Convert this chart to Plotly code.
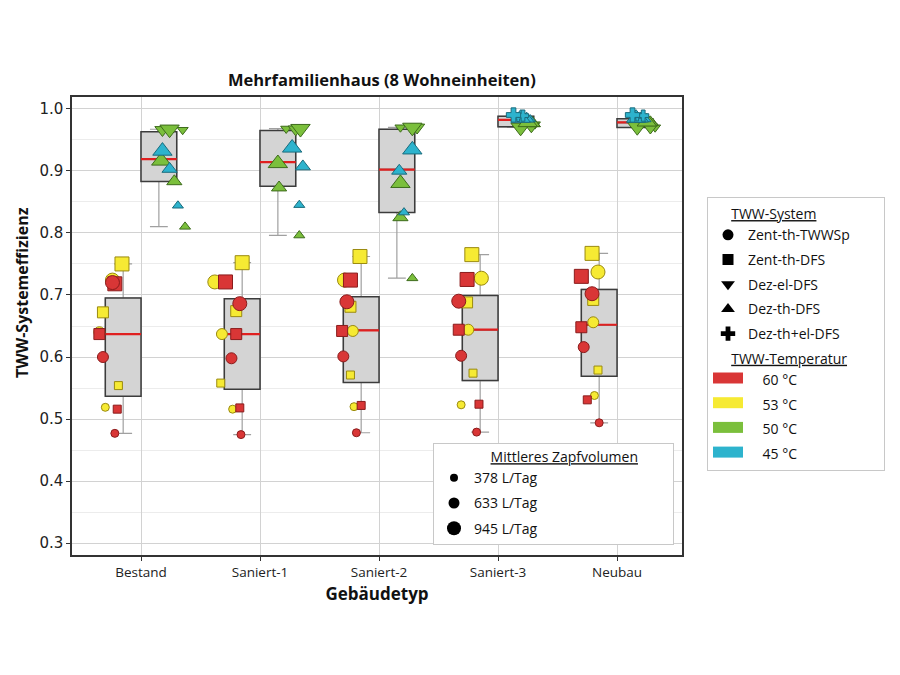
import numpy as np
import plotly.graph_objects as go

# ---------------- data ----------------
categories = ["Bestand", "Saniert-1", "Saniert-2", "Saniert-3", "Neubau"]
systems = ["Zent-th-TWWSp", "Zent-th-DFS", "Dez-el-DFS", "Dez-th-DFS", "Dez-th+el-DFS"]
temperatures = ["60 °C", "53 °C", "50 °C", "45 °C"]
volumes = ["378 L/Tag", "633 L/Tag", "945 L/Tag"]

# efficiency per category, each as [378, 633, 945 L/Tag]
zent_tww_60 = [[0.477, 0.600, 0.720], [0.475, 0.598, 0.686], [0.478, 0.601, 0.689],
               [0.479, 0.602, 0.690], [0.494, 0.616, 0.702]]
zent_tww_53 = [[0.519, 0.640, 0.724], [0.516, 0.637, 0.721], [0.520, 0.642, 0.724],
               [0.523, 0.644, 0.727], [0.538, 0.656, 0.737]]
zent_dfs_60 = [[0.516, 0.637, 0.718], [0.518, 0.637, 0.721], [0.522, 0.642, 0.724],
               [0.524, 0.644, 0.725], [0.531, 0.648, 0.730]]
zent_dfs_53 = [[0.554, 0.672, 0.750], [0.558, 0.674, 0.752], [0.571, 0.681, 0.762],
               [0.574, 0.688, 0.765], [0.579, 0.692, 0.767]]
dez_el_50 = [[0.966, 0.966, 0.967], [0.968, 0.967, 0.968], [0.970, 0.970, 0.970],
             [0.975, 0.972, 0.970], [0.970, 0.970, 0.971]]
dez_th_50 = [[0.810, 0.883, 0.916], [0.796, 0.873, 0.912], [0.727, 0.825, 0.880],
             [0.975, 0.977, 0.978], [0.977, 0.978, 0.979]]
dez_th_45 = [[0.844, 0.903, 0.932], [0.845, 0.907, 0.937], [0.833, 0.900, 0.934],
             [0.983, 0.984, 0.985], [0.983, 0.984, 0.985]]
dez_thel_45 = [[None, None, None], [None, None, None], [None, None, None],
               [0.986, 0.989, 0.990], [0.987, 0.989, 0.990]]

# horizontal jitter of each point (category units, from category centre)
zent_tww_60_dx = [[-0.22, -0.32, -0.24], [-0.16, -0.24, -0.17], [-0.19, -0.30, -0.27],
                  [-0.18, -0.31, -0.33], [-0.15, -0.28, -0.21]]
zent_tww_53_dx = [[-0.30, -0.35, -0.24], [-0.23, -0.32, -0.38], [-0.21, -0.22, -0.29],
                  [-0.31, -0.25, -0.14], [-0.19, -0.20, -0.16]]
zent_dfs_60_dx = [[-0.20, -0.35, -0.22], [-0.17, -0.20, -0.29], [-0.15, -0.31, -0.24],
                  [-0.16, -0.33, -0.26], [-0.25, -0.30, -0.30]]
zent_dfs_53_dx = [[-0.19, -0.32, -0.16], [-0.33, -0.20, -0.15], [-0.24, -0.24, -0.16],
                  [-0.21, -0.26, -0.22], [-0.16, -0.20, -0.21]]
dez_el_50_dx = [[0.35, 0.18, 0.24], [0.22, 0.30, 0.34], [0.18, 0.32, 0.28],
                [0.31, 0.28, 0.19], [0.32, 0.28, 0.17]]
dez_th_50_dx = [[0.37, 0.28, 0.17], [0.33, 0.16, 0.15], [0.28, 0.18, 0.18],
                [0.31, 0.29, 0.25], [0.30, 0.28, 0.25]]
dez_th_45_dx = [[0.31, 0.24, 0.18], [0.33, 0.36, 0.27], [0.21, 0.17, 0.28],
                [0.27, 0.24, 0.19], [0.24, 0.20, 0.16]]
dez_thel_45_dx = [[0, 0, 0], [0, 0, 0], [0, 0, 0],
                  [0.17, 0.21, 0.13], [0.17, 0.22, 0.13]]

# box statistics (left box: central systems, right box: decentral systems)
zent_q1 = [0.537, 0.548, 0.559, 0.562, 0.569]
zent_median = [0.637, 0.637, 0.643, 0.644, 0.652]
zent_q3 = [0.695, 0.694, 0.697, 0.699, 0.709]
zent_low = [0.477, 0.475, 0.478, 0.479, 0.494]
zent_high = [0.750, 0.752, 0.762, 0.765, 0.767]
dez_q1 = [0.883, 0.875, 0.833, 0.971, 0.970]
dez_median = [0.919, 0.914, 0.902, 0.982, 0.978]
dez_q3 = [0.963, 0.965, 0.967, 0.988, 0.984]
dez_low = [0.810, 0.796, 0.727, 0.970, 0.970]
dez_high = [0.967, 0.968, 0.970, 0.990, 0.990]

# series: (values, jitter, system index, temperature index)
series = [
    (zent_dfs_53, zent_dfs_53_dx, 1, 1),
    (zent_tww_53, zent_tww_53_dx, 0, 1),
    (zent_dfs_60, zent_dfs_60_dx, 1, 0),
    (zent_tww_60, zent_tww_60_dx, 0, 0),
    (dez_el_50, dez_el_50_dx, 2, 2),
    (dez_th_50, dez_th_50_dx, 3, 2),
    (dez_th_45, dez_th_45_dx, 3, 3),
    (dez_thel_45, dez_thel_45_dx, 4, 3),
]

# ---------------- style ----------------
FONT = "Open Sans"
TEMP_FILL = ["#d93636", "#f6ea33", "#7bbf3c", "#2db3cd"]
TEMP_EDGE = ["#8a1c1c", "#9a8a10", "#3d6b1c", "#1a6b7c"]
SYS_SYMBOL = ["circle", "square", "triangle-down", "triangle-up", "cross"]
SYS_SCALE = [1.0, 1.0, 1.2, 1.2, 0.85]
VOL_SIZE = [8, 11, 14]
BOX_W = 0.30
NBSP = "\u00a0"

cat_idx = np.arange(len(categories))
zent_pos = cat_idx - BOX_W / 2
dez_pos = cat_idx + BOX_W / 2

fig = go.Figure()


def add_boxes(pos, q1, med, q3, lo, hi):
    # whiskers (grey)
    fig.add_trace(go.Box(x=pos, q1=q1, median=med, q3=q3, lowerfence=lo, upperfence=hi,
                         width=BOX_W, whiskerwidth=0.5, boxpoints=False,
                         line=dict(color="#a0a0a0", width=1.2), fillcolor="#d4d4d4",
                         showlegend=False, hoverinfo="skip"))
    # box body (dark outline)
    fig.add_trace(go.Box(x=pos, q1=q1, median=med, q3=q3, lowerfence=q1, upperfence=q3,
                         width=BOX_W, whiskerwidth=0, boxpoints=False,
                         line=dict(color="#3c3c3c", width=1.5), fillcolor="#d4d4d4",
                         showlegend=False, hoverinfo="skip"))


add_boxes(zent_pos, zent_q1, zent_median, zent_q3, zent_low, zent_high)
add_boxes(dez_pos, dez_q1, dez_median, dez_q3, dez_low, dez_high)

# red median lines
mx, my = [], []
for pos, med in ((zent_pos, zent_median), (dez_pos, dez_median)):
    for p, m in zip(pos, med):
        mx += [p - BOX_W / 2, p + BOX_W / 2, None]
        my += [m, m, None]
fig.add_trace(go.Scatter(x=mx, y=my, mode="lines", line=dict(color="#e02020", width=2.2),
                         showlegend=False, hoverinfo="skip"))

# data points
for vals, dxs, si, ti in series:
    xs, ys, sz = [], [], []
    for c, (row, drow) in enumerate(zip(vals, dxs)):
        for k, (v, d) in enumerate(zip(row, drow)):
            if v is None:
                continue
            xs.append(cat_idx[c] + d)
            ys.append(v)
            sz.append(VOL_SIZE[k] * SYS_SCALE[si])
    fig.add_trace(go.Scatter(
        x=xs, y=ys, mode="markers", showlegend=False,
        name=f"{systems[si]} {temperatures[ti]}",
        marker=dict(symbol=SYS_SYMBOL[si], size=sz, color=TEMP_FILL[ti], opacity=1,
                    line=dict(color=TEMP_EDGE[ti], width=1))))

# legend 1: systems and temperatures
GT_FONT = dict(family=FONT, size=14, color="#111")
for i, s in enumerate(systems):
    fig.add_trace(go.Scatter(
        x=[None], y=[None], mode="markers", name=s + (NBSP * 8 if i == 0 else ""),
        marker=dict(symbol=SYS_SYMBOL[i], color="black", size=11 if i < 2 else 12),
        legend="legend", legendgroup=f"sys{i}",
        legendgrouptitle=dict(text=(NBSP * 5 + "<u>TWW-System</u>") if i == 0 else "",
                              font=GT_FONT)))
for j, t in enumerate(temperatures):
    fig.add_trace(go.Scatter(
        x=[None], y=[None], mode="lines", fill="toself", fillcolor=TEMP_FILL[j],
        line=dict(color=TEMP_FILL[j], width=10), name=NBSP * 4 + t,
        legend="legend", legendgroup=f"temp{j}",
        legendgrouptitle=dict(text=(NBSP * 5 + "<u>TWW-Temperatur</u>") if j == 0 else "",
                              font=GT_FONT)))

# legend 2: draw-off volume
for k, v in enumerate(volumes):
    fig.add_trace(go.Scatter(
        x=[None], y=[None], mode="markers", name=v,
        marker=dict(symbol="circle", color="black", size=VOL_SIZE[k]),
        legend="legend2", legendgroup=f"vol{k}"))

# figure is 884x659 (page adds 8px body margin on each side)
W, H = 884, 659
fig.update_layout(
    width=W, height=H,
    margin=dict(l=64, r=210, t=89, b=112, autoexpand=False),
    paper_bgcolor="white", plot_bgcolor="white",
    font=dict(family=FONT, size=13, color="#111"),
    title=dict(text="<b>Mehrfamilienhaus (8 Wohneinheiten)</b>", x=0.508, xref="paper",
               xanchor="center", y=1 - 72 / H, yref="container", yanchor="middle",
               font=dict(family=FONT, size=16.5, color="#111")),
    xaxis=dict(range=[-0.58, 4.546], tickmode="array", tickvals=cat_idx, ticktext=categories,
               showgrid=True, gridcolor="#d2d2d2", gridwidth=1.3, zeroline=False,
               showline=True, linecolor="#333", linewidth=1.5, mirror=True,
               ticks="outside", ticklen=4, tickcolor="#333",
               tickfont=dict(family=FONT, size=13.5, color="#222"),
               title=dict(text="<b>Gebäudetyp</b>", font=dict(family=FONT, size=17, color="#111"),
                          standoff=8)),
    yaxis=dict(range=[0.281, 1.019], tickmode="array",
               tickvals=[0.3, 0.4, 0.5, 0.6, 0.7, 0.8, 0.9, 1.0], tickformat=".1f",
               showgrid=True, gridcolor="#d2d2d2", gridwidth=1.3, zeroline=False,
               showline=True, linecolor="#333", linewidth=1.5, mirror=True,
               ticks="outside", ticklen=4, tickcolor="#333",
               tickfont=dict(family="DejaVu Sans", size=15, color="#222"),
               minor=dict(dtick=0.05, tick0=0.3, showgrid=True, gridcolor="#ececec", ticks="")),
    annotations=[dict(text="<b>TWW-Systemeffizienz</b>", xref="paper", yref="paper",
                      x=(22 - 72) / 610, y=(555 - 293) / 458, textangle=-90,
                      xanchor="center", yanchor="middle", showarrow=False,
                      font=dict(family=FONT, size=16, color="#111"))],
    legend=dict(x=(707 - 72) / 610, y=(555 - 197) / 458, xanchor="left", yanchor="top",
                bordercolor="#c8c8c8", borderwidth=1, bgcolor="white",
                font=dict(family=FONT, size=14, color="#111"), tracegroupgap=3.5,
                itemsizing="trace"),
    legend2=dict(x=(433 - 72) / 610, y=(555 - 443) / 458, xanchor="left", yanchor="top",
                 bordercolor="#c8c8c8", borderwidth=1, bgcolor="white",
                 font=dict(family=FONT, size=14, color="#111"), tracegroupgap=4,
                 itemsizing="trace",
                 title=dict(text=NBSP * 15 + "<u>Mittleres Zapfvolumen</u>" + NBSP * 9,
                            side="top", font=dict(family=FONT, size=14, color="#111"))),
)

fig.write_html("out.html")
